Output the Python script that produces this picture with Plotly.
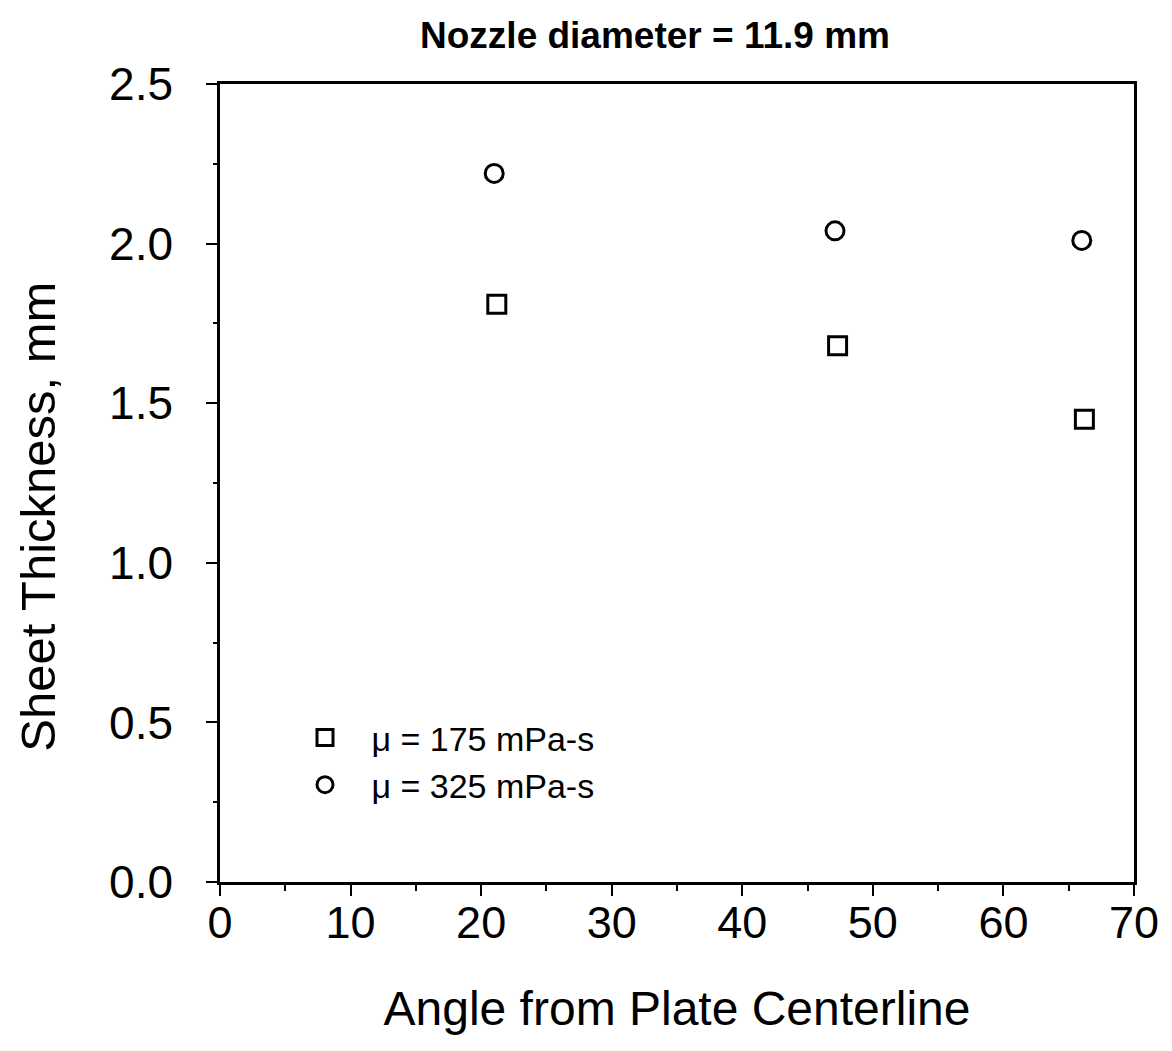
import plotly.graph_objects as go

# Data
angle_175 = [21.2, 47.3, 66.2]
thick_175 = [1.81, 1.68, 1.45]
angle_325 = [21.0, 47.1, 66.0]
thick_325 = [2.22, 2.04, 2.01]

series_names = ["\u2002\u00a0μ = 175 mPa-s", "\u2002\u00a0μ = 325 mPa-s"]
x_ticks = [0, 10, 20, 30, 40, 50, 60, 70]
y_ticks = [0.0, 0.5, 1.0, 1.5, 2.0, 2.5]

FONT = "Liberation Sans, Arial, Helvetica, sans-serif"

fig = go.Figure()
fig.add_trace(go.Scatter(
    x=angle_175, y=thick_175, mode="markers", name=series_names[0],
    marker=dict(symbol="square-open", size=18, color="black", line=dict(width=3, color="black")),
))
fig.add_trace(go.Scatter(
    x=angle_325, y=thick_325, mode="markers", name=series_names[1],
    marker=dict(symbol="circle-open", size=18, color="black", line=dict(width=3, color="black")),
))

fig.update_layout(
    width=1172, height=1051,
    margin=dict(l=220, r=38, t=84, b=169),
    paper_bgcolor="white", plot_bgcolor="white",
    font=dict(family=FONT, color="black"),
    title=dict(text="<b>Nozzle diameter = 11.9 mm</b>", x=655/1172, xref="container", xanchor="center",
               y=1 - 35/1051, yref="container", yanchor="middle",
               font=dict(size=37, family=FONT, color="black")),
    showlegend=True,
    legend=dict(x=0.093, y=0.217, xanchor="left", yanchor="top", bgcolor="rgba(0,0,0,0)",
                font=dict(size=34, family=FONT, color="black"), itemsizing="trace"),
    xaxis=dict(range=[0, 70], tickmode="array", tickvals=x_ticks, ticktext=[str(v) for v in x_ticks],
               ticks="outside", ticklen=11, tickwidth=2, tickcolor="black",
               showline=True, linewidth=2.5, linecolor="black", mirror=True,
               showgrid=False, zeroline=False,
               minor=dict(dtick=5, ticks="outside", ticklen=6, tickwidth=2, tickcolor="black", showgrid=False),
               tickfont=dict(size=45, family=FONT, color="black"), ticklabelstandoff=-12,
               title=dict(text="Angle from Plate Centerline", standoff=45,
                          font=dict(size=48, family=FONT, color="black"))),
    yaxis=dict(range=[0, 2.5], tickmode="array", tickvals=y_ticks, ticktext=[f"{v:.1f}" for v in y_ticks],
               ticks="outside", ticklen=11, tickwidth=2, tickcolor="black",
               showline=True, linewidth=2.5, linecolor="black", mirror=True,
               showgrid=False, zeroline=False,
               minor=dict(dtick=0.25, ticks="outside", ticklen=4, tickwidth=2, tickcolor="black", showgrid=False),
               tickfont=dict(size=46, family=FONT, color="black"), ticklabelstandoff=24),
    annotations=[dict(text="Sheet Thickness, mm", textangle=-90, showarrow=False,
                      xref="paper", yref="paper", x=(38 - 220) / 913, y=(882 - 517) / 798,
                      xanchor="center", yanchor="middle",
                      font=dict(size=49, family=FONT, color="black"))],
)

fig.write_html("out.html")
